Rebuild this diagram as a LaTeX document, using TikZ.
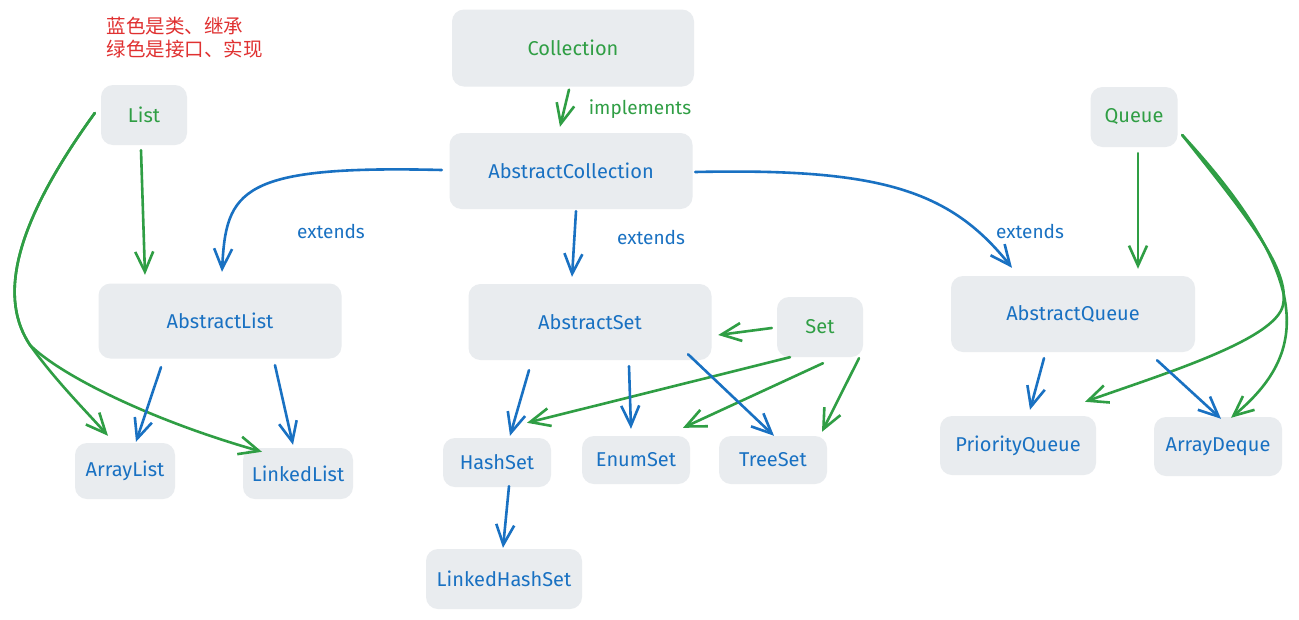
\documentclass[tikz,border=0pt]{standalone}
\usepackage{fontspec}
\setmainfont{Fira Sans}
\newfontfamily\cjk{Noto Sans CJK SC}
\usetikzlibrary{arrows.meta,calc}
\definecolor{clsblue}{HTML}{1971C2}
\definecolor{ifgreen}{HTML}{2F9E44}
\definecolor{notered}{HTML}{E03131}
\definecolor{boxgray}{HTML}{E9ECEF}

\begin{document}
\begin{tikzpicture}[x=1pt,y=-1pt,
  box/.style={rounded corners=12pt,fill=boxgray,inner sep=0pt,font=\fontsize{20}{24}\selectfont},
  cls/.style={box,text=clsblue},
  ifc/.style={box,text=ifgreen},
  lbl/.style={font=\fontsize{19}{23}\selectfont},
  ext/.style={clsblue,line width=2.6pt,line cap=round,line join=round,-{Straight Barb[length=20pt,width=18pt]}},
  impl/.style={ifgreen,line width=2.6pt,line cap=round,line join=round,-{Straight Barb[length=20pt,width=18pt]}}]
\path[use as bounding box,fill=white] (0,0) rectangle (1299,619);

% legend
\node[anchor=north west,text=notered,align=left,font=\cjk\fontsize{19.5}{23}\selectfont] (note) at (103,14) {蓝色是类、继承\\绿色是接口、实现};

% interfaces and classes
\node[ifc,minimum width=242pt,minimum height=77pt] (coll) at (573,48) {Collection};
\node[cls,minimum width=243pt,minimum height=76pt] (acoll) at (571,171) {AbstractCollection};
\node[ifc,minimum width=86pt,minimum height=60pt] (list) at (144,115) {List};
\node[ifc,minimum width=86pt,minimum height=60pt] (set) at (820,327) {Set};
\node[ifc,minimum width=87pt,minimum height=60pt] (queue) at (1134,117) {Queue};
\node[cls,minimum width=243pt,minimum height=75pt] (alist) at (220,321) {AbstractList};
\node[cls,minimum width=243pt,minimum height=76pt] (aset) at (590,322) {AbstractSet};
\node[cls,minimum width=244pt,minimum height=76pt] (aqueue) at (1073,314) {AbstractQueue};
\node[cls,minimum width=100pt,minimum height=56pt] (arraylist) at (125,471) {ArrayList};
\node[cls,minimum width=110pt,minimum height=51pt] (linkedlist) at (298,473.5) {LinkedList};
\node[cls,minimum width=108pt,minimum height=49pt] (hashset) at (497,462.5) {HashSet};
\node[cls,minimum width=108pt,minimum height=48pt] (enumset) at (636,460) {EnumSet};
\node[cls,minimum width=108pt,minimum height=48pt] (treeset) at (773,460) {TreeSet};
\node[cls,minimum width=156pt,minimum height=60pt] (lhset) at (504,579) {LinkedHashSet};
\node[cls,minimum width=156pt,minimum height=59pt] (pqueue) at (1018,445.5) {PriorityQueue};
\node[cls,minimum width=128pt,minimum height=59pt] (adeque) at (1218,446.5) {ArrayDeque};

% labels
\node[lbl,text=ifgreen] (implbl) at (640,109) {implements};
\node[lbl,text=clsblue] (extl) at (331,231) {extends};
\node[lbl,text=clsblue] (exts) at (651,237) {extends};
\node[lbl,text=clsblue] (extq) at (1030,231) {extends};

% implements
\draw[impl] ($(coll.south)+(-4,3)$) -- ($(acoll.north)+(-11,-6)$);
\draw[impl] ($(list.south)+(-3,5)$) -- ($(alist.north)+(-75,-8.5)$);
\draw[impl] ($(list.west)+(-6,-2)$) .. controls (10,230) and (0,300) .. (30,345)
            .. controls (55,380) and (85,410) .. ($(arraylist.north)+(-17,-7)$);
\draw[impl] ($(list.west)+(-6,-2)$) .. controls (10,230) and (0,300) .. (30,345)
            .. controls (60,375) and (150,420) .. ($(linkedlist.north)+(-36,4)$);
\draw[impl] ($(set.west)+(-5,1)$) -- ($(aset.east)+(6.5,13)$);
\draw[impl] ($(set.south)+(-30,0)$) -- ($(hashset.north)+(30,-15)$);
\draw[impl] ($(set.south)+(3,6)$) -- ($(enumset.north)+(47,-8)$);
\draw[impl] ($(set.south)+(39,1)$) -- ($(treeset.north)+(49,-4)$);
\draw[impl] ($(queue.south)+(4,6)$) -- ($(aqueue.north)+(65,-7)$);
\draw[impl] ($(queue.east)+(4.5,18)$) .. controls (1250,220) and (1290,270) .. (1283,305)
            .. controls (1276,340) and (1160,375) .. ($(pqueue.north)+(67,-14)$);
\draw[impl] ($(queue.east)+(4.5,18)$) .. controls (1325,290) and (1300,360) .. ($(adeque.north)+(13,1)$);

% extends
\draw[ext] ($(acoll.west)+(-7.5,-1)$) .. controls (240,165) and (226,190) .. ($(alist.north)+(2,-11.5)$);
\draw[ext] ($(acoll.south)+(5,2)$) -- ($(aset.north)+(-18,-7)$);
\draw[ext] ($(acoll.east)+(2.5,1)$) .. controls (880,168) and (950,190) .. ($(aqueue.north)+(-61,-8)$);
\draw[ext] ($(alist.south)+(-59,8.5)$) -- ($(arraylist.north)+(11,-1)$);
\draw[ext] ($(alist.south)+(55,6.5)$) -- ($(linkedlist.north)+(-5,-3)$);
\draw[ext] ($(aset.south)+(-61,10)$) -- ($(hashset.north)+(13,-2)$);
\draw[ext] ($(aset.south)+(39,6)$) -- ($(enumset.north)+(-5,-7)$);
\draw[ext] ($(aset.south)+(98,-6)$) -- ($(treeset.north)+(1,0)$);
\draw[ext] ($(hashset.south)+(12,-1)$) -- ($(lhset.north)+(-1,-1)$);
\draw[ext] ($(aqueue.south)+(-29,6)$) -- ($(pqueue.north)+(12,-6)$);
\draw[ext] ($(aqueue.south)+(84,8)$) -- ($(adeque.north)+(3,2)$);
\end{tikzpicture}
\end{document}
